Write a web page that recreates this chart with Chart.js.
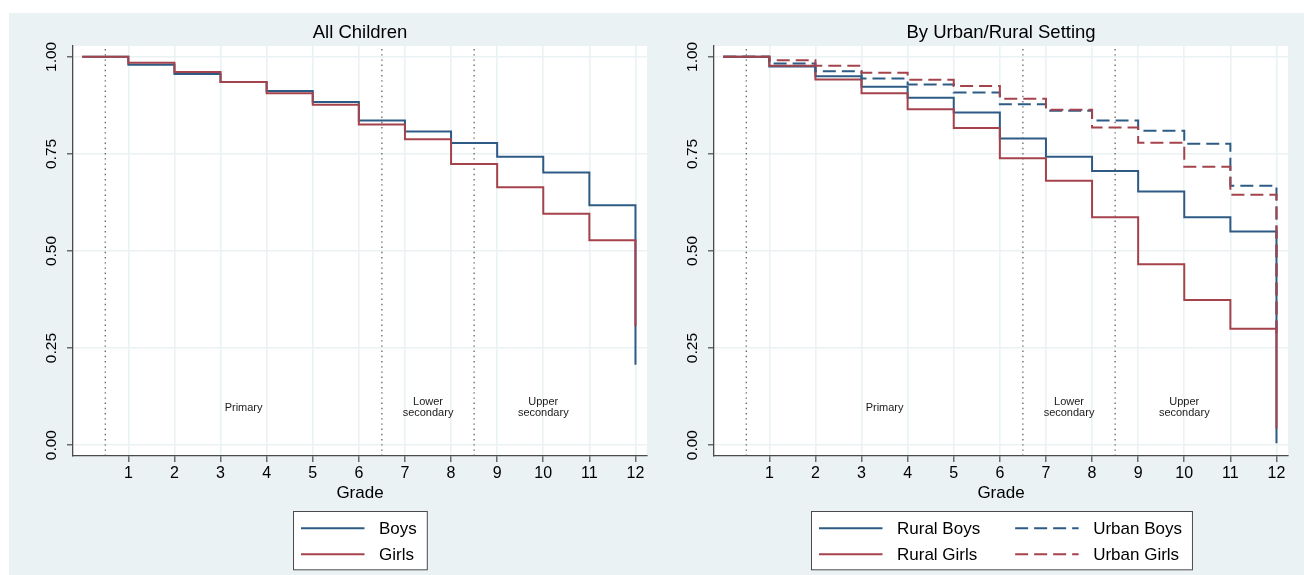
<!DOCTYPE html>
<html>
<head>
<meta charset="utf-8">
<script src="https://cdn.jsdelivr.net/npm/chart.js@4/dist/chart.umd.min.js"></script>
<style>
  html, body { margin: 0; padding: 0; background: #ffffff; }
  body { width: 1304px; height: 575px; position: relative; overflow: hidden; }
  #region { position: absolute; left: 9px; top: 13px; width: 1295px; height: 562px; background: #eaf2f3; }
  canvas { position: absolute; top: 0; }
  #allChildren { left: 0; }
  #bySetting { left: 652px; }
</style>
</head>
<body>
<div id="region"></div>
<canvas id="allChildren" width="652" height="575"></canvas>
<canvas id="bySetting" width="652" height="575"></canvas>
<script>
// Share of children still enrolled at each grade (value holds from grade g to g+1)
const grades = [0, 1, 2, 3, 4, 5, 6, 7, 8, 9, 10, 11, 12];

const boys  = [1.000, 0.980, 0.956, 0.935, 0.912, 0.884, 0.836, 0.808, 0.778, 0.743, 0.702, 0.618, 0.207];
const girls = [1.000, 0.985, 0.961, 0.935, 0.906, 0.877, 0.826, 0.788, 0.724, 0.664, 0.596, 0.528, 0.307];

const ruralBoys  = [1.000, 0.975, 0.950, 0.923, 0.895, 0.857, 0.790, 0.743, 0.706, 0.653, 0.587, 0.550, 0.005];
const ruralGirls = [1.000, 0.977, 0.942, 0.906, 0.865, 0.817, 0.739, 0.681, 0.587, 0.466, 0.374, 0.300, 0.043];
const urbanBoys  = [1.000, 0.983, 0.963, 0.944, 0.929, 0.908, 0.878, 0.861, 0.836, 0.810, 0.776, 0.668, 0.300];
const urbanGirls = [1.000, 0.991, 0.977, 0.959, 0.941, 0.925, 0.892, 0.864, 0.818, 0.779, 0.717, 0.645, 0.280];

// School levels
const levelBreaks = [0.5, 6.5, 8.5];
const levelNames = [['Primary'], ['Lower', 'secondary'], ['Upper', 'secondary']];
const levelNameGrades = [3.5, 7.5, 10];
const levelNameHeight = 0.096;

// Axes
const xTicks = [1, 2, 3, 4, 5, 6, 7, 8, 9, 10, 11, 12];
const yTicks = [0, 0.25, 0.5, 0.75, 1];
const xRange = [-0.2, 12.25];
const yRange = [-0.028, 1.028];
const xTitle = 'Grade';

const FONT = "'Liberation Sans', Arial, Helvetica, sans-serif";
const NAVY = '#2e5b85';
const MAROON = '#a4434c';

Chart.defaults.font.family = FONT;
Chart.defaults.color = '#000';

function stepSeries(label, values, color, dash, order) {
  return {
    label,
    data: grades.map((g, i) => ({ x: g, y: values[i] })),
    stepped: true,
    borderColor: color,
    borderWidth: 2,
    borderDash: dash,
    pointRadius: 0,
    fill: false,
    order,
    inLegend: true
  };
}

function breakSeries() {
  return levelBreaks.map(b => ({
    label: 'break ' + b,
    data: [{ x: b, y: yRange[0] }, { x: b, y: yRange[1] }],
    borderColor: '#555555',
    borderWidth: 1.2,
    borderDash: [1.4, 3.8],
    pointRadius: 0,
    fill: false,
    order: 10,
    inLegend: false
  }));
}

// White plot region, title, level names and the boxed legend
const panelDecor = {
  id: 'panelDecor',
  beforeDraw(chart) {
    const a = chart.chartArea, ctx = chart.ctx;
    ctx.save();
    ctx.fillStyle = '#ffffff';
    ctx.fillRect(a.left, a.top, a.right - a.left, a.bottom - a.top);
    ctx.restore();
  },
  afterDraw(chart, args, opts) {
    const a = chart.chartArea, ctx = chart.ctx;
    const xs = chart.scales.x, ys = chart.scales.y;
    const cx = (a.left + a.right) / 2;
    ctx.save();

    // title
    ctx.fillStyle = '#000';
    ctx.font = '18.5px ' + FONT;
    ctx.textAlign = 'center';
    ctx.textBaseline = 'middle';
    ctx.fillText(opts.title, cx, 33);

    // level names
    ctx.font = '11px ' + FONT;
    ctx.fillStyle = '#1a1a1a';
    levelNames.forEach((lines, i) => {
      const px = xs.getPixelForValue(levelNameGrades[i]);
      const py = ys.getPixelForValue(levelNameHeight);
      const lh = 11;
      lines.forEach((t, j) => {
        ctx.fillText(t, px, py + (j - (lines.length - 1) / 2) * lh);
      });
    });

    // legend
    const items = chart.data.datasets.filter(d => d.inLegend);
    const order = opts.legendOrder.map(i => items[i]);
    const cols = opts.legendCols;
    const rows = Math.ceil(order.length / cols);
    const padL = 7.5, sample = 63.5, gap = 14.5, colGap = 35, padR = 10.5, rowH = 26;
    ctx.font = '17px ' + FONT;
    const colText = [];
    for (let c = 0; c < cols; c++) {
      let w = 0;
      for (let r = 0; r < rows; r++) {
        const it = order[r * cols + c];
        if (it) w = Math.max(w, ctx.measureText(it.label).width);
      }
      colText.push(w);
    }
    let boxW = padL + padR + (cols - 1) * colGap;
    colText.forEach(w => { boxW += sample + gap + w; });
    const boxH = rows * rowH + 6.3;
    const bx = Math.round(cx - boxW / 2) + 0.5;
    const by = 511.5;
    ctx.fillStyle = '#ffffff';
    ctx.fillRect(bx, by, boxW, boxH);
    ctx.strokeStyle = '#4a4a4a';
    ctx.lineWidth = 1;
    ctx.setLineDash([]);
    ctx.strokeRect(bx, by, boxW, boxH);

    let colX = bx + padL;
    for (let c = 0; c < cols; c++) {
      for (let r = 0; r < rows; r++) {
        const it = order[r * cols + c];
        if (!it) continue;
        const ry = by + 3.7 + rowH / 2 + r * rowH;
        ctx.strokeStyle = it.borderColor;
        ctx.lineWidth = 2;
        ctx.setLineDash(it.borderDash || []);
        ctx.beginPath();
        ctx.moveTo(colX, ry);
        ctx.lineTo(colX + sample, ry);
        ctx.stroke();
        ctx.setLineDash([]);
        ctx.fillStyle = '#000';
        ctx.textAlign = 'left';
        ctx.textBaseline = 'middle';
        ctx.fillText(it.label, colX + sample + gap, ry + 1.5);
      }
      colX += sample + gap + colText[c] + colGap;
    }
    ctx.restore();
  }
};

function makeChart(id, title, datasets, axisWidth, rightPad, legendCols, legendOrder) {
  return new Chart(document.getElementById(id), {
    type: 'line',
    data: { datasets: datasets.concat(breakSeries()) },
    options: {
      responsive: false,
      animation: false,
      events: [],
      devicePixelRatio: 1,
      layout: { autoPadding: false, padding: { left: 0, right: rightPad, top: 46, bottom: 0 } },
      plugins: {
        legend: { display: false },
        tooltip: { enabled: false },
        panelDecor: { title, legendCols, legendOrder }
      },
      scales: {
        x: {
          type: 'linear',
          min: xRange[0],
          max: xRange[1],
          afterBuildTicks: s => { s.ticks = xTicks.map(v => ({ value: v })); },
          afterFit: s => { s.height = 119; },
          ticks: { padding: 2, minRotation: 0, maxRotation: 0, color: '#000', font: { size: 16 }, callback: v => String(v) },
          grid: { color: '#eaf2f3', lineWidth: 1.6, tickLength: 6, tickColor: '#4a4a4a', tickWidth: 1.2 },
          border: { color: '#4a4a4a', width: 1.3 },
          title: { display: true, text: xTitle, color: '#000', font: { size: 17 }, padding: { top: 0, bottom: 71.8 } }
        },
        y: {
          type: 'linear',
          min: yRange[0],
          max: yRange[1],
          afterBuildTicks: s => { s.ticks = yTicks.map(v => ({ value: v })); },
          afterFit: s => { s.width = axisWidth; },
          ticks: { padding: 0, minRotation: 90, maxRotation: 90, crossAlign: 'center', color: '#000', font: { size: 15.5 }, callback: v => Number(v).toFixed(2) },
          grid: { color: '#eaf2f3', lineWidth: 1.6, tickLength: 6, tickColor: '#4a4a4a', tickWidth: 1.2 },
          border: { color: '#4a4a4a', width: 1.3 }
        }
      }
    },
    plugins: [panelDecor]
  });
}

makeChart('allChildren', 'All Children', [
  stepSeries('Boys', boys, NAVY, [], 2),
  stepSeries('Girls', girls, MAROON, [], 1)
], 73, 5, 1, [0, 1]);

makeChart('bySetting', 'By Urban/Rural Setting', [
  stepSeries('Rural Boys', ruralBoys, NAVY, [], 4),
  stepSeries('Rural Girls', ruralGirls, MAROON, [], 3),
  stepSeries('Urban Boys', urbanBoys, NAVY, [13, 6], 2),
  stepSeries('Urban Girls', urbanGirls, MAROON, [13, 6], 1)
], 62, 16, 2, [0, 2, 1, 3]);
</script>
</body>
</html>
